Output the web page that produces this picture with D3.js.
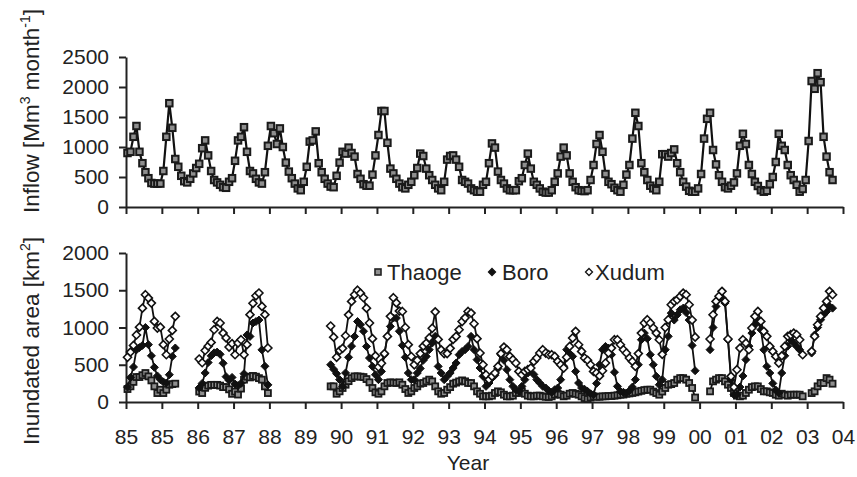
<!DOCTYPE html>
<html>
<head>
<meta charset="utf-8">
<script src="https://cdn.jsdelivr.net/npm/d3@7"></script>
<style>
  body { margin: 0; background: #fff; }
  svg text { font-family: "Liberation Sans", Arial, sans-serif; fill: #222; }
</style>
</head>
<body>
<svg id="chart" width="857" height="477"></svg>
<script>
// tick labels under the year ticks (every 12 months)
const yearLabels = ['85','85','86','87','88','89','90','91','92','93','94','95','96','97','98','99','00','01','02','03','04'];

// monthly inflow, Mm3/month
const inflow = [
  900, 920, 1170, 1350, 920, 730, 580, 480, 400, 390, 390, 390,
  600, 1170, 1730, 1320, 800, 670, 520, 430, 410, 470, 560, 650,
  720, 980, 1110, 860, 600, 450, 410, 370, 330, 320, 420, 480,
  770, 1110, 1170, 1330, 920, 600, 560, 470, 410, 390, 580, 1020,
  1350, 1230, 1050, 1310, 1000, 740, 590, 480, 390, 310, 280, 420,
  670, 1090, 1110, 1260, 730, 580, 470, 390, 340, 330, 520, 740,
  920, 890, 990, 900, 840, 550, 470, 380, 355, 355, 540, 860,
  1200, 1600, 1600, 1070, 640, 560, 470, 390, 330, 310, 370, 420,
  530, 650, 890, 850, 640, 530, 450, 370, 310, 280, 420, 790,
  850, 860, 790, 670, 450, 420, 390, 310, 280, 255, 255, 370,
  420, 730, 1060, 990, 590, 450, 390, 310, 280, 280, 280, 430,
  480, 700, 890, 640, 420, 370, 310, 255, 240, 240, 280, 420,
  560, 840, 990, 860, 560, 420, 330, 280, 270, 265, 280, 450,
  700, 1050, 1200, 920, 550, 420, 380, 320, 280, 255, 370, 540,
  700, 1140, 1570, 1350, 730, 580, 450, 355, 310, 280, 420, 880,
  880, 840, 900, 960, 730, 580, 420, 340, 270, 255, 255, 310,
  550, 1140, 1470, 1570, 950, 710, 530, 420, 330, 310, 355, 410,
  560, 1020, 1220, 1050, 700, 550, 420, 350, 280, 255, 270, 380,
  500, 750, 1220, 1020, 950, 700, 530, 450, 370, 255, 300, 450,
  1100, 2100, 1970, 2230, 2080, 1170, 840, 580, 450
];

const _ = null;

// inundated area, km2 (null = no image)
const thaoge = [
  174, 210, 270, 335, 335, 360, 389, 344, 290, 210, 120, 165,
  120, 165, 232, 240, 246, _, _, _, _, _, _, _,
  140, 120, 190, 220, 230, 230, 230, 220, 200, 200, 170, 110,
  140, 100, 180, 300, 340, 330, 350, 340, 320, 300, 210, 120,
  _, _, _, _, _, _, _, _, _, _, _, _,
  _, _, _, _, _, _, _, _, 210, 210, 111, 143,
  188, 232, 280, 321, 344, 344, 340, 335, 308, 264, 188, 130,
  111, 143, 210, 255, 264, 260, 255, 264, 232, 174, 121, 143,
  188, 210, 246, 255, 277, 300, 277, 210, 143, 111, 121, 165,
  200, 246, 260, 277, 290, 277, 255, 255, 210, 143, 111, 76,
  76, 76, 85, 121, 143, 130, 98, 76, 76, 85, 121, 121,
  143, 111, 85, 76, 76, 85, 85, 76, 70, 67, 76, 98,
  111, 98, 76, 85, 111, 121, 110, 98, 76, 53, 40, 60,
  76, 70, 70, 76, 76, 80, 80, 85, 90, 98, 100, 110,
  115, 121, 130, 140, 150, 160, 165, 165, 140, 120, 98, 140,
  188, 232, 240, 255, 300, 321, 321, 300, 255, 188, 60, _,
  _, _, _, 143, 277, 300, 321, 321, 277, 232, 188, 121,
  85, 76, 85, 121, 165, 200, 210, 210, 174, 143, 143, 130,
  121, 98, 85, 111, 98, 85, 98, 98, 98, 98, 76, _,
  _, 120, 143, 210, 255, 255, 321, 300, 246
];

const boro = [
  200, 330, 470, 700, 730, 760, 1000, 770, 620, 465, 350, 300,
  270, 255, 366, 612, 725, _, _, _, _, _, _, _,
  190, 250, 390, 530, 620, 660, 670, 640, 520, 340, 290, 330,
  240, 220, 250, 380, 900, 880, 1060, 1080, 1100, 700, 480, 230,
  _, _, _, _, _, _, _, _, _, _, _, _,
  _, _, _, _, _, _, _, _, 500, 440, 380, 300,
  210, 390, 600, 750, 880, 1080, 1037, 950, 746, 590, 478, 366,
  300, 411, 635, 881, 1015, 1127, 1127, 950, 760, 600, 389, 300,
  300, 389, 450, 560, 612, 702, 791, 881, 478, 389, 300, 344,
  389, 456, 523, 635, 679, 702, 746, 881, 702, 568, 456, 345,
  210, 255, 322, 360, 450, 635, 560, 434, 300, 210, 165, 143,
  210, 300, 389, 456, 370, 300, 255, 210, 188, 150, 129, 165,
  188, 300, 480, 702, 650, 612, 411, 255, 188, 170, 143, 110,
  98, 250, 500, 702, 746, 724, 635, 400, 210, 143, 130, 121,
  150, 200, 300, 500, 836, 925, 850, 635, 500, 344, 232, 300,
  702, 881, 1193, 1100, 1170, 1238, 1260, 1200, 1100, 760, 420, _,
  _, _, _, 702, 1000, 1283, 1395, 1400, 1328, 836, 300, 98,
  98, 200, 350, 568, 750, 925, 1037, 1082, 970, 700, 478, 389,
  250, 160, 121, 389, 620, 750, 836, 791, 746, 700, 635, _,
  _, 657, 900, 1000, 1104, 1171, 1216, 1283, 1260
];

const xudum = [
  600, 670, 760, 900, 1005, 1260, 1440, 1395, 1328, 1082, 993, 1005,
  770, 635, 845, 961, 1150, _, _, _, _, _, _, _,
  577, 527, 692, 750, 800, 970, 1082, 1060, 925, 860, 738, 783,
  635, 792, 836, 635, 770, 1172, 1325, 1426, 1463, 1283, 1172, 725,
  _, _, _, _, _, _, _, _, _, _, _, _,
  _, _, _, _, _, _, _, _, 1020, 870, 600, 690,
  720, 890, 1170, 1350, 1440, 1500, 1460, 1400, 1260, 1060, 850, 620,
  470, 520, 650, 880, 1150, 1400, 1330, 1220, 1215, 1000, 770, 610,
  500, 560, 650, 750, 790, 860, 990, 1210, 840, 700, 650, 650,
  720, 840, 880, 970, 1080, 1130, 1215, 1193, 1050, 850, 657, 500,
  366, 300, 344, 389, 478, 650, 737, 702, 612, 568, 523, 411,
  366, 411, 434, 456, 545, 590, 657, 702, 657, 635, 635, 612,
  545, 500, 456, 600, 746, 859, 948, 769, 679, 590, 560, 500,
  411, 389, 350, 420, 523, 657, 724, 836, 836, 769, 702, 657,
  590, 545, 478, 650, 925, 1060, 1104, 1060, 993, 925, 836, 640,
  1000, 1104, 1306, 1350, 1373, 1417, 1462, 1440, 1306, 1100, 870, _,
  _, _, _, 845, 1171, 1350, 1420, 1485, 1350, 845, 344, 200,
  433, 724, 836, 791, 702, 993, 1150, 1216, 1082, 948, 881, 746,
  679, 612, 523, 620, 746, 881, 903, 925, 903, 836, 635, _,
  _, 680, 880, 1037, 1149, 1260, 1350, 1485, 1440
];

const svg = d3.select('#chart');

const x = d3.scaleLinear().domain([0, 240]).range([126, 843]);
const yTop = d3.scaleLinear().domain([0, 2500]).range([207, 57]);
const yBot = d3.scaleLinear().domain([0, 2000]).range([402, 253]);
const px = (d, i) => x(i + 0.5);

function styleAxis(g) {
  g.selectAll('path, line').attr('stroke', '#222').attr('stroke-width', 2);
  g.selectAll('text').attr('font-size', '21px').attr('fill', '#222')
    .attr('font-family', '"Liberation Sans", Arial, sans-serif');
}

// top panel axes
svg.append('g')
  .attr('transform', 'translate(0,207)')
  .call(d3.axisBottom(x).tickValues(d3.range(0, 241, 12)).tickSize(7).tickSizeOuter(0).tickFormat(''))
  .call(styleAxis);
svg.append('g')
  .attr('transform', 'translate(126,0)')
  .call(d3.axisLeft(yTop).tickValues(d3.range(0, 2501, 500)).tickSize(7).tickSizeOuter(0)
    .tickPadding(10).tickFormat(d3.format('d')))
  .call(styleAxis);

// bottom panel axes
svg.append('g')
  .attr('transform', 'translate(0,402)')
  .call(d3.axisBottom(x).tickValues(d3.range(0, 241, 12)).tickSize(7).tickSizeOuter(0).tickPadding(20)
    .tickFormat((d, i) => yearLabels[i]))
  .call(styleAxis);
svg.append('g')
  .attr('transform', 'translate(126,0)')
  .call(d3.axisLeft(yBot).tickValues(d3.range(0, 2001, 500)).tickSize(7).tickSizeOuter(0)
    .tickPadding(10).tickFormat(d3.format('d')))
  .call(styleAxis);

// axis titles
const t1 = svg.append('text')
  .attr('transform', 'translate(39,111) rotate(-90)')
  .attr('text-anchor', 'middle')
  .attr('font-size', '22.5px');
t1.append('tspan').text('Inflow [Mm');
t1.append('tspan').attr('font-size', '14px').attr('dy', -9).text('3');
t1.append('tspan').attr('dy', 9).text(' month');
t1.append('tspan').attr('font-size', '14px').attr('dy', -9).text('-1');
t1.append('tspan').attr('dy', 9).text(']');

const t2 = svg.append('text')
  .attr('transform', 'translate(39,341) rotate(-90)')
  .attr('text-anchor', 'middle')
  .attr('font-size', '22.5px');
t2.append('tspan').text('Inundated area [km');
t2.append('tspan').attr('font-size', '14px').attr('dy', -9).text('2');
t2.append('tspan').attr('dy', 9).text(']');

svg.append('text')
  .attr('x', 468).attr('y', 470)
  .attr('text-anchor', 'middle')
  .attr('font-size', '21px')
  .text('Year');

// marker helpers
const diamond = r => `M0,${-r}L${r},0L0,${r}L${-r},0Z`;

function drawSeries(data, y, opts) {
  const line = d3.line()
    .defined(d => d != null)
    .x(px)
    .y(d => y(d));
  svg.append('path')
    .datum(data)
    .attr('fill', 'none')
    .attr('stroke', '#111')
    .attr('stroke-width', opts.lw)
    .attr('d', line);

  const pts = data.map((v, i) => ({v, i})).filter(d => d.v != null);
  const g = svg.append('g');
  if (opts.shape === 'square') {
    g.selectAll('rect').data(pts).join('rect')
      .attr('x', d => x(d.i + 0.5) - opts.s / 2)
      .attr('y', d => y(d.v) - opts.s / 2)
      .attr('width', opts.s).attr('height', opts.s)
      .attr('fill', opts.fill).attr('stroke', '#1a1a1a').attr('stroke-width', opts.sw);
  } else {
    g.selectAll('path').data(pts).join('path')
      .attr('transform', d => `translate(${x(d.i + 0.5)},${y(d.v)})`)
      .attr('d', diamond(opts.s / 2))
      .attr('fill', opts.fill).attr('stroke', '#111').attr('stroke-width', opts.sw);
  }
}

drawSeries(inflow, yTop, {shape: 'square', s: 6.5, fill: '#8f8f8f', sw: 2, lw: 2.2});

drawSeries(thaoge, yBot, {shape: 'square', s: 6, fill: '#8f8f8f', sw: 1.8, lw: 1.8});
drawSeries(boro, yBot, {shape: 'diamond', s: 8, fill: '#111', sw: 1, lw: 1.8});
drawSeries(xudum, yBot, {shape: 'diamond', s: 8, fill: '#fff', sw: 1.6, lw: 1.8});

// legend
const legend = [
  {name: 'Thaoge', mx: 378, tx: 387, shape: 'square', fill: '#8f8f8f'},
  {name: 'Boro', mx: 492, tx: 502, shape: 'diamond', fill: '#111'},
  {name: 'Xudum', mx: 589, tx: 595, shape: 'diamond', fill: '#fff'}
];
legend.forEach(l => {
  if (l.shape === 'square') {
    svg.append('rect').attr('x', l.mx - 3).attr('y', 269).attr('width', 6).attr('height', 6)
      .attr('fill', l.fill).attr('stroke', '#222').attr('stroke-width', 1.6);
  } else {
    svg.append('path').attr('transform', `translate(${l.mx},272)`).attr('d', diamond(3.5))
      .attr('fill', l.fill).attr('stroke', '#111').attr('stroke-width', 1.3);
  }
  svg.append('text').attr('x', l.tx).attr('y', 280).attr('font-size', '22px').text(l.name);
});
</script>
</body>
</html>
